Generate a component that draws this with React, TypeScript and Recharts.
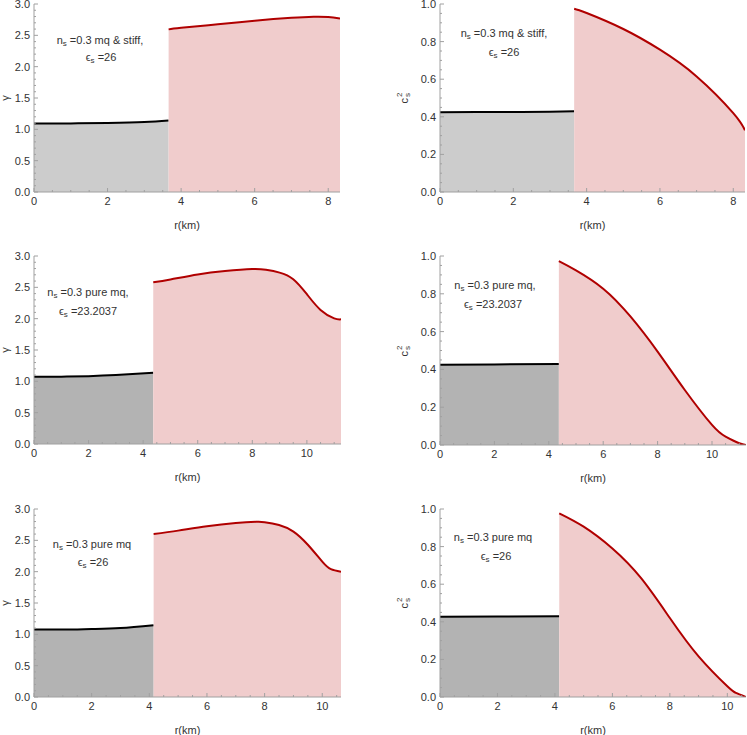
import React from "react";
import { ComposedChart, Area, XAxis, YAxis } from "recharts";

type Pt = [number, number];

// row 1: n_s = 0.3, mq & stiff, eps_s = 26
const stiffGammaCore: Pt[] = [[0, 1.093], [1, 1.095], [2, 1.103], [3, 1.118], [3.66, 1.142]];
const stiffGammaOuter: Pt[] = [[3.66, 2.595], [4, 2.62], [5, 2.675], [6, 2.733], [7, 2.78], [7.6, 2.797], [8, 2.793], [8.32, 2.77]];
const stiffCsCore: Pt[] = [[0, 0.424], [1, 0.425], [2, 0.426], [3, 0.427], [3.66, 0.429]];
const stiffCsOuter: Pt[] = [[3.66, 0.975], [4, 0.952], [5, 0.867], [6, 0.757], [7, 0.615], [8, 0.42], [8.32, 0.328]];

// row 2: n_s = 0.3, pure mq, eps_s = 23.2037
const pure23GammaCore: Pt[] = [[0, 1.073], [1, 1.075], [2, 1.083], [3, 1.1], [4.37, 1.137]];
const pure23GammaOuter: Pt[] = [[4.37, 2.58], [5, 2.625], [6, 2.705], [7, 2.76], [8, 2.792], [8.5, 2.78], [9, 2.735], [9.5, 2.63], [10, 2.39], [10.5, 2.14], [11, 2.005], [11.25, 1.99]];
const pure23CsCore: Pt[] = [[0, 0.425], [2, 0.426], [4.37, 0.429]];
const pure23CsOuter: Pt[] = [[4.37, 0.973], [5, 0.924], [6, 0.827], [7, 0.68], [8, 0.494], [9, 0.291], [10, 0.106], [10.5, 0.044], [11, 0.009], [11.25, 0]];

// row 3: n_s = 0.3, pure mq, eps_s = 26
const pure26GammaCore: Pt[] = [[0, 1.078], [1, 1.076], [2, 1.085], [3, 1.1], [4.15, 1.145]];
const pure26GammaOuter: Pt[] = [[4.15, 2.6], [5, 2.655], [6, 2.725], [7, 2.775], [7.7, 2.795], [8, 2.79], [8.5, 2.745], [9, 2.64], [9.5, 2.43], [10, 2.16], [10.3, 2.04], [10.65, 2.0]];
const pure26CsCore: Pt[] = [[0, 0.427], [2, 0.428], [4.15, 0.43]];
const pure26CsOuter: Pt[] = [[4.15, 0.977], [5, 0.906], [6, 0.79], [7, 0.632], [8, 0.42], [9, 0.216], [10, 0.057], [10.3, 0.022], [10.65, 0]];

const rMaxes = [8.32, 11.25, 10.65];

const xMajor = [0, 2, 4, 6, 8, 10];
const gammaMajor = [0, 0.5, 1, 1.5, 2, 2.5, 3];
const csMajor = [0, 0.2, 0.4, 0.6, 0.8, 1];

const noteLines = [
  ["=0.3 mq & stiff,", "=26"],
  ["=0.3 pure mq,", "=23.2037"],
  ["=0.3 pure mq", "=26"],
];

const FONT = '"Liberation Sans", Arial, sans-serif';
const FRAME = "#a0a0a0";
const TEXT = "#333";
const RED = "#b00000";
const PINK = "#f0cccc";

type Kind = "gamma" | "cs";

interface PanelDef {
  core: Pt[];
  outer: Pt[];
  rMax: number;
  kind: Kind;
  coreFill: string;
  x0: number;
  y0: number;
  x1: number;
  y1: number;
  note: string[];
  noteXY: [number, number, number, number];
}

const steps = (step: number, max: number) => {
  const out: number[] = [];
  for (let i = 0; i * step <= max + 1e-9; i++) out.push(+(i * step).toFixed(4));
  return out;
};

const isMajor = (v: number, majors: number[]) =>
  majors.some((m) => Math.abs(m - v) < 1e-6);

const makeTick =
  (side: "bottom" | "left" | "top" | "right", majors: number[], fmt?: (v: number) => string) =>
  (p: any) => {
    const { x, y, payload } = p;
    const v = payload.value as number;
    const major = isMajor(v, majors);
    const len = major ? 4 : 2;
    let line;
    if (side === "bottom") line = <line x1={x} x2={x} y1={y} y2={y - len} stroke={FRAME} />;
    else if (side === "top") line = <line x1={x} x2={x} y1={y} y2={y + len} stroke={FRAME} />;
    else if (side === "left") line = <line x1={x} x2={x + len} y1={y} y2={y} stroke={FRAME} />;
    else line = <line x1={x} x2={x - len} y1={y} y2={y} stroke={FRAME} />;
    let label = null;
    if (major && fmt && side === "bottom")
      label = (
        <text x={x} y={y + 13} textAnchor="middle" fontSize={11} fill={TEXT} fontFamily={FONT}>
          {fmt(v)}
        </text>
      );
    if (major && fmt && side === "left")
      label = (
        <text x={x - 4} y={y + 4} textAnchor="end" fontSize={11} fill={TEXT} fontFamily={FONT}>
          {fmt(v)}
        </text>
      );
    return (
      <g>
        {line}
        {label}
      </g>
    );
  };

const textStyle: React.CSSProperties = {
  position: "absolute",
  transform: "translate(-50%, -50%)",
  fontSize: 11,
  color: TEXT,
  whiteSpace: "nowrap",
  lineHeight: "13px",
};

const subStyle: React.CSSProperties = { fontSize: 8, verticalAlign: "-2px", lineHeight: 0 };

function Panel({ d }: { d: PanelDef }) {
  const plotW = d.x1 - d.x0;
  const plotH = d.y1 - d.y0;
  const yAxisW = 40;
  const topPad = Math.min(8, d.y0);
  const w = yAxisW + plotW + 4;
  const h = topPad + plotH + 45;
  const rows = [
    ...d.core.map(([r, v]) => ({ r, core: v })),
    ...d.outer.map(([r, v]) => ({ r, outer: v })),
  ];
  const yMax = d.kind === "gamma" ? 3 : 1;
  const yMajor = d.kind === "gamma" ? gammaMajor : csMajor;
  const yTicks = steps(d.kind === "gamma" ? 0.1 : 0.05, yMax);
  const xTicks = steps(0.5, d.rMax);
  const xMaj = xMajor.filter((v) => v <= d.rMax);
  const fmtY = (v: number) => v.toFixed(1);
  const fmtX = (v: number) => String(v);

  return (
    <>
      <div style={{ position: "absolute", left: d.x0 - yAxisW, top: d.y0 - topPad }}>
        <ComposedChart width={w} height={h} data={rows} margin={{ top: topPad, right: 4, bottom: 0, left: 0 }}>
          <XAxis
            xAxisId="b"
            dataKey="r"
            type="number"
            domain={[0, d.rMax]}
            allowDataOverflow
            ticks={xTicks}
            interval={0}
            height={45}
            tickSize={0}
            tickMargin={0}
            tickLine={false}
            axisLine={{ stroke: FRAME }}
            tick={makeTick("bottom", xMaj, fmtX)}
          />
          <XAxis
            xAxisId="t"
            orientation="top"
            dataKey="r"
            type="number"
            domain={[0, d.rMax]}
            allowDataOverflow
            ticks={xTicks}
            interval={0}
            height={0}
            tickSize={0}
            tickMargin={0}
            tickLine={false}
            axisLine={{ stroke: FRAME }}
            tick={makeTick("top", xMaj)}
          />
          <YAxis
            yAxisId="l"
            type="number"
            domain={[0, yMax]}
            allowDataOverflow
            ticks={yTicks}
            interval={0}
            width={yAxisW}
            tickSize={0}
            tickMargin={0}
            tickLine={false}
            axisLine={{ stroke: FRAME }}
            tick={makeTick("left", yMajor, fmtY)}
          />
          <YAxis
            yAxisId="r"
            orientation="right"
            type="number"
            domain={[0, yMax]}
            allowDataOverflow
            ticks={yTicks}
            interval={0}
            width={0}
            tickSize={0}
            tickMargin={0}
            tickLine={false}
            axisLine={{ stroke: FRAME }}
            tick={makeTick("right", yMajor)}
          />
          <Area
            xAxisId="b"
            yAxisId="l"
            type="natural"
            dataKey="core"
            stroke="#000"
            strokeWidth={2}
            fill={d.coreFill}
            fillOpacity={1}
            baseValue={0}
            connectNulls={false}
            dot={false}
            activeDot={false}
            isAnimationActive={false}
          />
          <Area
            xAxisId="b"
            yAxisId="l"
            type="natural"
            dataKey="outer"
            stroke={RED}
            strokeWidth={2}
            fill={PINK}
            fillOpacity={1}
            baseValue={0}
            connectNulls={false}
            dot={false}
            activeDot={false}
            isAnimationActive={false}
          />
        </ComposedChart>
      </div>
      {/* axis titles */}
      <div style={{ ...textStyle, left: (d.x0 + d.x1) / 2, top: d.y1 + 33 }}>r(km)</div>
      <div
        style={{
          ...textStyle,
          left: d.x0 - (d.kind === "gamma" ? 29 : 36),
          top: (d.y0 + d.y1) / 2,
          transform: "translate(-50%, -50%) rotate(-90deg)",
        }}
      >
        {d.kind === "gamma" ? (
          "γ"
        ) : (
          <span style={{ display: "inline-flex", alignItems: "center" }}>
            c
            <span style={{ display: "inline-flex", flexDirection: "column", fontSize: 8, lineHeight: "8px", marginLeft: 1 }}>
              <span>2</span>
              <span>s</span>
            </span>
          </span>
        )}
      </div>
      {/* annotation */}
      <div style={{ ...textStyle, left: d.noteXY[0], top: d.noteXY[1] }}>
        n<span style={subStyle}>s</span> {d.note[0]}
      </div>
      <div style={{ ...textStyle, left: d.noteXY[2], top: d.noteXY[3] }}>
        ϵ<span style={subStyle}>s</span> {d.note[1]}
      </div>
    </>
  );
}

const panels: PanelDef[] = [
  { core: stiffGammaCore, outer: stiffGammaOuter, rMax: rMaxes[0], kind: "gamma", coreFill: "#cccccc", x0: 34, y0: 4, x1: 340, y1: 192, note: noteLines[0], noteXY: [100, 40, 101, 57] },
  { core: stiffCsCore, outer: stiffCsOuter, rMax: rMaxes[0], kind: "cs", coreFill: "#cccccc", x0: 440, y0: 4, x1: 745, y1: 192, note: noteLines[0], noteXY: [504, 33, 504, 52] },
  { core: pure23GammaCore, outer: pure23GammaOuter, rMax: rMaxes[1], kind: "gamma", coreFill: "#b3b3b3", x0: 34, y0: 256, x1: 341, y1: 444, note: noteLines[1], noteXY: [88, 292, 88, 311] },
  { core: pure23CsCore, outer: pure23CsOuter, rMax: rMaxes[1], kind: "cs", coreFill: "#b3b3b3", x0: 440, y0: 256, x1: 746, y1: 445, note: noteLines[1], noteXY: [495, 285, 493, 304] },
  { core: pure26GammaCore, outer: pure26GammaOuter, rMax: rMaxes[2], kind: "gamma", coreFill: "#b3b3b3", x0: 34, y0: 509, x1: 341, y1: 697, note: noteLines[2], noteXY: [92, 544, 93, 562] },
  { core: pure26CsCore, outer: pure26CsOuter, rMax: rMaxes[2], kind: "cs", coreFill: "#b3b3b3", x0: 440, y0: 509, x1: 746, y1: 697, note: noteLines[2], noteXY: [493, 537, 496, 556] },
];

export default function App() {
  return (
    <div
      style={{
        position: "absolute",
        left: 0,
        top: 0,
        width: 747,
        height: 735,
        background: "#fff",
        fontFamily: FONT,
        overflow: "hidden",
      }}
    >
      {panels.map((d, i) => (
        <Panel key={i} d={d} />
      ))}
    </div>
  );
}
